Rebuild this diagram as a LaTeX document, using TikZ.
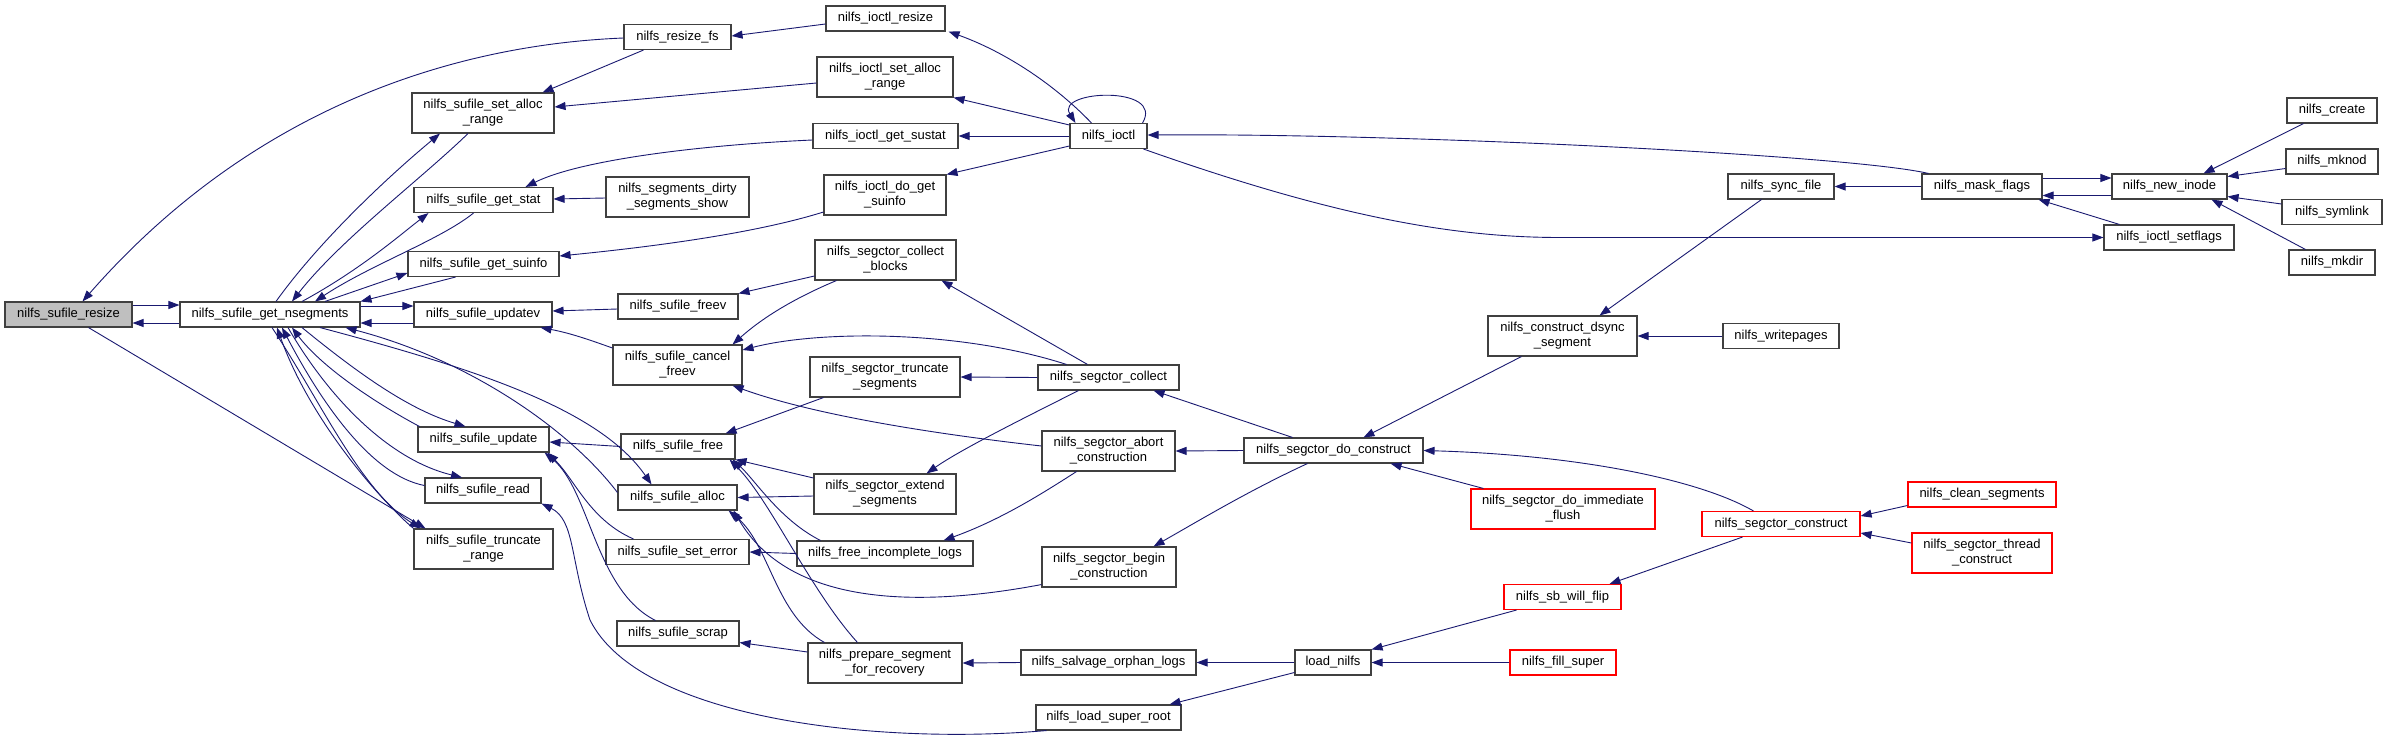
\documentclass[tikz,border=0pt]{standalone}
\usepackage{fontspec}
\setmainfont{Liberation Sans}
\usetikzlibrary{arrows.meta,calc}
\definecolor{edgeblue}{HTML}{191970}
\definecolor{boxgray}{HTML}{404040}
\definecolor{rootfill}{HTML}{BFBFBF}
\newcommand{\fnt}{\fontsize{13}{15}\selectfont}
\tikzset{
  nd/.style={draw=boxgray, line width=1.1pt, fill=white, inner sep=0pt, font=\fnt, align=center, minimum height=25pt},
  nd2/.style={nd, minimum height=40pt},
  rd/.style={nd, draw=red},
  rd2/.style={nd2, draw=red},
  e/.style={draw=edgeblue, line width=0.9pt, -{Triangle[length=11pt,width=8pt]}},
}
\begin{document}
\begin{tikzpicture}[x=1pt,y=-1pt]
\useasboundingbox (0,0) rectangle (2387,750);
% column 1-2
\node[nd, fill=rootfill, minimum width=127pt] (resize) at (68.5,314.5) {nilfs\_sufile\_resize};
\node[nd, minimum width=180pt] (nseg) at (270,314.5) {nilfs\_sufile\_get\_nsegments};
% column 3
\node[nd2, minimum width=142pt] (sar) at (483,113) {nilfs\_sufile\_set\_alloc\\\_range};
\node[nd, minimum width=139pt] (getstat) at (483.5,200) {nilfs\_sufile\_get\_stat};
\node[nd, minimum width=151pt] (getsuinfo) at (483.5,264) {nilfs\_sufile\_get\_suinfo};
\node[nd, minimum width=138pt] (updatev) at (483,314.5) {nilfs\_sufile\_updatev};
\node[nd, minimum width=131pt] (update) at (483.5,439.5) {nilfs\_sufile\_update};
\node[nd, minimum width=116pt] (read) at (483,490.5) {nilfs\_sufile\_read};
\node[nd2, minimum width=139pt] (truncr) at (483.5,549) {nilfs\_sufile\_truncate\\\_range};
% column 4
\node[nd, minimum width=107pt] (resizefs) at (677.5,37) {nilfs\_resize\_fs};
\node[nd2, minimum width=143pt] (dirty) at (677.5,197) {nilfs\_segments\_dirty\\\_segments\_show};
\node[nd, minimum width=120pt] (freev) at (678,306.5) {nilfs\_sufile\_freev};
\node[nd2, minimum width=129pt] (cancel) at (677.5,365) {nilfs\_sufile\_cancel\\\_freev};
\node[nd, minimum width=114pt] (free) at (678,446.5) {nilfs\_sufile\_free};
\node[nd, minimum width=119pt] (alloc) at (677.5,497.5) {nilfs\_sufile\_alloc};
\node[nd, minimum width=143pt] (seterr) at (677.5,552) {nilfs\_sufile\_set\_error};
\node[nd, minimum width=122pt] (scrap) at (678,633.5) {nilfs\_sufile\_scrap};
% column 5
\node[nd, minimum width=119pt] (ioctlresize) at (885.5,18.5) {nilfs\_ioctl\_resize};
\node[nd2, minimum width=136pt] (ioctlsar) at (885,77) {nilfs\_ioctl\_set\_alloc\\\_range};
\node[nd, minimum width=145pt] (sustat) at (885.5,136) {nilfs\_ioctl\_get\_sustat};
\node[nd2, minimum width=122pt] (dogetsuinfo) at (885,195) {nilfs\_ioctl\_do\_get\\\_suinfo};
\node[nd2, minimum width=141pt] (cblocks) at (885.5,260) {nilfs\_segctor\_collect\\\_blocks};
\node[nd2, minimum width=150pt] (truncseg) at (885,377) {nilfs\_segctor\_truncate\\\_segments};
\node[nd2, minimum width=142pt] (extend) at (885,494) {nilfs\_segctor\_extend\\\_segments};
\node[nd, minimum width=176pt] (incompl) at (885,553.5) {nilfs\_free\_incomplete\_logs};
\node[nd2, minimum width=154pt] (prepare) at (885,663) {nilfs\_prepare\_segment\\\_for\_recovery};
% column 6
\node[nd, minimum width=77pt] (ioctl) at (1108.5,136) {nilfs\_ioctl};
\node[nd, minimum width=141pt] (collect) at (1108.5,377.5) {nilfs\_segctor\_collect};
\node[nd2, minimum width=133pt] (abort) at (1108.5,451) {nilfs\_segctor\_abort\\\_construction};
\node[nd2, minimum width=134pt] (begin) at (1109,567) {nilfs\_segctor\_begin\\\_construction};
\node[nd, minimum width=175pt] (salvage) at (1108.5,662.5) {nilfs\_salvage\_orphan\_logs};
\node[nd, minimum width=145pt] (lsr) at (1108.5,717.5) {nilfs\_load\_super\_root};
% column 7-8
\node[nd, minimum width=179pt] (doconstruct) at (1333.5,450.5) {nilfs\_segctor\_do\_construct};
\node[nd, minimum width=76pt] (loadnilfs) at (1333,662.5) {load\_nilfs};
\node[nd2, minimum width=149pt] (dsync) at (1562.5,336) {nilfs\_construct\_dsync\\\_segment};
\node[rd2, minimum width=184pt] (immflush) at (1563,509) {nilfs\_segctor\_do\_immediate\\\_flush};
\node[rd, minimum width=117pt] (sbflip) at (1562.5,597) {nilfs\_sb\_will\_flip};
\node[rd, minimum width=106pt] (fillsuper) at (1563,662.5) {nilfs\_fill\_super};
% column 9
\node[nd, minimum width=106pt] (syncfile) at (1781,186.5) {nilfs\_sync\_file};
\node[nd, minimum width=116pt] (writepages) at (1781,336) {nilfs\_writepages};
\node[rd, minimum width=158pt] (sconstruct) at (1781,524) {nilfs\_segctor\_construct};
% column 10
\node[nd, minimum width=120pt] (maskflags) at (1982,186.5) {nilfs\_mask\_flags};
\node[rd, minimum width=148pt] (clean) at (1982,494.5) {nilfs\_clean\_segments};
\node[rd2, minimum width=140pt] (thread) at (1982,553) {nilfs\_segctor\_thread\\\_construct};
% column 11
\node[nd, minimum width=115pt] (newinode) at (2169.5,186.5) {nilfs\_new\_inode};
\node[nd, minimum width=130pt] (setflags) at (2169,237.5) {nilfs\_ioctl\_setflags};
% column 12
\node[nd, minimum width=90pt] (create) at (2332,110.5) {nilfs\_create};
\node[nd, minimum width=92pt] (mknod) at (2332,161.5) {nilfs\_mknod};
\node[nd, minimum width=100pt] (symlink) at (2332,212) {nilfs\_symlink};
\node[nd, minimum width=86pt] (mkdir) at (2332,262.5) {nilfs\_mkdir};

% ---- edges around get_nsegments
\draw[e] ($(resize.east)+(0,-9.5)$) -- ($(nseg.west)+(0,-9.5)$);
\draw[e] ($(nseg.west)+(0,8.5)$) -- ($(resize.east)+(0,8.5)$);
\draw[e] ($(resizefs.west)+(0,1)$) .. controls (450,45) and (250,110) .. ($(resize.north)+(14,0)$);
\draw[e] ($(resize.south)+(20,0)$) -- ($(truncr.north)+(-58,0)$);
\draw[e] ($(nseg.north)+(6,0)$) .. controls (320,240) and (390,175) .. ($(sar.south)+(-43,0)$);
\draw[e] ($(sar.south)+(-15,0)$) .. controls (420,180) and (340,240) .. ($(nseg.north)+(22,0)$);
\draw[e] ($(nseg.north)+(32,0)$) .. controls (360,270) and (400,235) .. ($(getstat.south)+(-55,0)$);
\draw[e] ($(getstat.south)+(-10,0)$) .. controls (440,240) and (370,265) .. ($(nseg.north)+(45,0)$);
\draw[e] ($(nseg.north)+(55,0)$) -- ($(getsuinfo.west)+(0,9)$);
\draw[e] ($(getsuinfo.south)+(-28,0)$) -- (nseg.north east);
\draw[e] ($(nseg.east)+(0,-8.5)$) -- ($(updatev.west)+(0,-8.5)$);
\draw[e] ($(updatev.west)+(0,8.5)$) -- ($(nseg.east)+(0,8.5)$);
\draw[e] ($(freev.west)+(0,2.5)$) -- ($(updatev.east)+(0,-3.5)$);
\draw[e] ($(cancel.west)+(0,-17)$) .. controls (590,340) and (570,333) .. ($(updatev.south east)+(-12,0)$);
\draw[e] ($(nseg.south)+(32,0)$) .. controls (360,375) and (410,410) .. ($(update.north)+(-18,0)$);
\draw[e] ($(update.north west)+(2,0)$) .. controls (370,400) and (320,365) .. ($(nseg.south)+(22,0)$);
\draw[e] ($(nseg.south)+(18,0)$) .. controls (330,400) and (390,460) .. ($(read.north)+(-21,0)$);
\draw[e] ($(read.west)+(0,-5)$) .. controls (370,475) and (320,400) .. ($(nseg.south)+(12,0)$);
\draw[e] ($(nseg.south)+(2,0)$) .. controls (320,400) and (360,490) .. ($(truncr.north)+(-63,0)$);
\draw[e] ($(truncr.north)+(-70,0)$) .. controls (380,500) and (310,420) .. ($(nseg.south)+(7,0)$);
\draw[e] ($(nseg.south)+(50,0)$) .. controls (480,370) and (600,410) .. ($(alloc.north)+(-26,0)$);
\draw[e] ($(alloc.west)+(0,-5)$) .. controls (570,430) and (470,360) .. ($(nseg.south east)+(-15,0)$);
\draw[e] ($(seterr.north west)+(28,0)$) .. controls (590,520) and (575,480) .. ($(update.south east)+(-2,0)$);
\draw[e] ($(scrap.north west)+(39,0)$) .. controls (595,590) and (590,490) .. ($(update.south east)+(-5,0)$);
\draw[e] (free.west) -- ($(update.east)+(0,2.5)$);
\draw[e] ($(lsr.south west)+(11,0)$) .. controls (880,745) and (640,720) .. (590,620) .. controls (570,560) and (575,520) .. (read.south east);
% ---- middle
\draw[e] ($(ioctlresize.west)+(0,5.5)$) -- ($(resizefs.east)+(0,-1)$);
\draw[e] ($(resizefs.south west)+(20,0)$) -- ($(sar.north east)+(-12,0)$);
\draw[e] ($(ioctlsar.west)+(0,6)$) -- ($(sar.east)+(0,-6)$);
\draw[e] ($(sustat.west)+(0,4)$) .. controls (700,145) and (580,160) .. ($(getstat.north)+(42,0)$);
\draw[e] ($(dirty.west)+(0,1)$) -- ($(getstat.east)+(0,-1)$);
\draw[e] ($(dogetsuinfo.west)+(0,17)$) .. controls (750,235) and (640,248) .. ($(getsuinfo.east)+(0,-8)$);
\draw[e] ($(cblocks.west)+(0,16)$) -- (freev.north east);
\draw[e] ($(cblocks.south west)+(22,0)$) .. controls (790,300) and (760,320) .. ($(cancel.north east)+(-10,0)$);
\draw[e] ($(collect.north)+(-21,0)$) -- ($(cblocks.south east)+(-15,0)$);
\draw[e] ($(collect.north)+(-42,0)$) .. controls (960,330) and (820,330) .. ($(cancel.east)+(0,-15)$);
\draw[e] (collect.west) -- (truncseg.east);
\draw[e] ($(collect.south)+(-30,0)$) .. controls (1020,420) and (960,450) .. ($(extend.north east)+(-30,0)$);
\draw[e] ($(truncseg.south west)+(14,0)$) -- ($(free.north east)+(-10,0)$);
\draw[e] ($(extend.west)+(0,-16)$) -- (free.south east);
\draw[e] ($(extend.west)+(0,2)$) -- (alloc.east);
\draw[e] ($(incompl.north west)+(24,0)$) .. controls (780,520) and (755,480) .. ($(free.south east)+(-3,0)$);
\draw[e] (incompl.west) -- (seterr.east);
\draw[e] ($(abort.west)+(0,-5)$) .. controls (900,430) and (800,410) .. ($(cancel.south east)+(-10,0)$);
\draw[e] ($(abort.south)+(-32,0)$) .. controls (1040,495) and (1000,520) .. ($(incompl.north east)+(-30,0)$);
\draw[e] ($(begin.south west)+(0,-3)$) .. controls (880,615) and (780,590) .. ($(alloc.south east)+(-4,0)$);
\draw[e] ($(prepare.north west)+(17,0)$) .. controls (775,615) and (770,545) .. ($(alloc.south east)+(-9,0)$);
\draw[e] ($(prepare.north west)+(50,0)$) .. controls (810,590) and (770,500) .. ($(free.south east)+(-6,0)$);
\draw[e] ($(prepare.west)+(0,-11)$) -- ($(scrap.east)+(0,9)$);
\draw[e] (salvage.west) -- (prepare.east);
\draw[e] (loadnilfs.west) -- (salvage.east);
\draw[e] ($(loadnilfs.west)+(0,10)$) -- ($(lsr.north east)+(-12,0)$);
\draw[e] ($(sbflip.south west)+(13,0)$) -- (loadnilfs.north east);
\draw[e] (fillsuper.west) -- (loadnilfs.east);
\draw[e] ($(sconstruct.south west)+(41,0)$) -- ($(sbflip.north east)+(-12,0)$);
\draw[e] ($(sconstruct.north west)+(52,0)$) .. controls (1700,480) and (1580,455) .. (doconstruct.east);
\draw[e] ($(immflush.north west)+(13,0)$) -- ($(doconstruct.south east)+(-33,0)$);
\draw[e] (doconstruct.west) -- (abort.east);
\draw[e] ($(doconstruct.north west)+(49,0)$) -- ($(collect.south east)+(-26,0)$);
\draw[e] ($(doconstruct.south west)+(64,0)$) .. controls (1250,490) and (1200,520) .. ($(begin.north east)+(-23,0)$);
\draw[e] ($(dsync.south west)+(34,0)$) -- ($(doconstruct.north)+(30,0)$);
\draw[e] (writepages.west) -- (dsync.east);
\draw[e] ($(syncfile.south west)+(34,0)$) -- ($(dsync.north)+(37,0)$);
% ---- right
\draw[e] (maskflags.west) -- (syncfile.east);
\draw[e] ($(maskflags.east)+(0,-8.5)$) -- ($(newinode.west)+(0,-8.5)$);
\draw[e] ($(newinode.west)+(0,9)$) -- ($(maskflags.east)+(0,9)$);
\draw[e] ($(setflags.north west)+(16,0)$) -- ($(maskflags.south east)+(-4,0)$);
\draw[e] ($(create.south west)+(17,0)$) -- ($(newinode.north east)+(-24,0)$);
\draw[e] ($(mknod.west)+(0,7)$) -- ($(newinode.east)+(0,-10)$);
\draw[e] ($(symlink.west)+(0,-8)$) -- ($(newinode.east)+(0,10)$);
\draw[e] ($(mkdir.north west)+(17,0)$) -- ($(newinode.south east)+(-16,0)$);
\draw[e] ($(clean.west)+(0,11)$) -- ($(sconstruct.east)+(0,-8)$);
\draw[e] ($(thread.west)+(0,-10)$) -- ($(sconstruct.east)+(0,9)$);
\draw[e] ($(maskflags.north west)+(7,0)$) .. controls (1850,155) and (1400,133) .. ($(ioctl.east)+(0,-1)$);
\draw[e] ($(ioctl.south east)+(-4,0)$) .. controls (1330,215) and (1450,237.5) .. (1560,237.5) -- (setflags.west);
\draw[e] ($(ioctl.north east)+(-5,0)$) .. controls (1165,85) and (1055,90) .. ($(ioctl.north west)+(6,0)$);
\draw[e] ($(ioctl.north)+(-17,0)$) .. controls (1050,80) and (1000,50) .. ($(ioctlresize.south east)+(3,0)$);
\draw[e] ($(ioctl.west)+(0,-11)$) -- (ioctlsar.south east);
\draw[e] (ioctl.west) -- (sustat.east);
\draw[e] ($(ioctl.west)+(0,10)$) -- (dogetsuinfo.north east);
\end{tikzpicture}
\end{document}
